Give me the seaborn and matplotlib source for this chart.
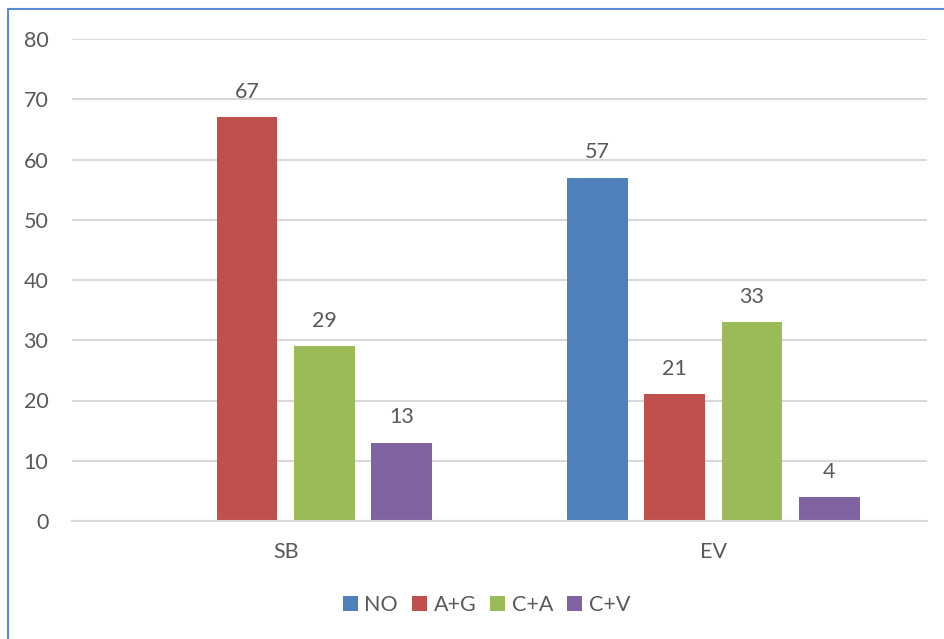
import matplotlib
matplotlib.use("Agg")
import matplotlib.pyplot as plt
from matplotlib.lines import Line2D
import numpy as np
import pandas as pd
import seaborn as sns

groups = ["SB", "EV"]
series = ["NO", "A+G", "C+A", "C+V"]
values_sb = [np.nan, 67, 29, 13]
values_ev = [57, 21, 33, 4]
colors = ["#4F81BD", "#C0504D", "#9BBB59", "#8064A2"]
y_ticks = [0, 10, 20, 30, 40, 50, 60, 70, 80]

rows = []
for g, vals in zip(groups, [values_sb, values_ev]):
    for s, v in zip(series, vals):
        rows.append({"group": g, "series": s, "value": v})
df = pd.DataFrame(rows)

sns.set_theme(style="white")
plt.rcParams["font.family"] = ["Lato", "DejaVu Sans"]
text_color = "#595959"
fs = 15.5

fig = plt.figure(figsize=(9.45, 6.39), dpi=100)
ax = fig.add_axes([72 / 945, 1 - 521 / 639, (927 - 72) / 945, (521 - 39) / 639])

sns.barplot(data=df, x="group", y="value", hue="series", order=groups,
            hue_order=series, palette=colors, width=0.725, gap=0.213,
            errorbar=None, saturation=1, linewidth=0, ax=ax, legend=True)

for c in ax.containers:
    ax.bar_label(c, fmt="%.0f", padding=11, fontsize=fs, color=text_color)

ax.set_ylim(0, 80)
ax.set_yticks(y_ticks)
ax.set_xlim(-0.5, 1.5)
ax.yaxis.grid(True, color="#D9D9D9", linewidth=1.5)
ax.set_axisbelow(True)
for side in ["left", "right", "top"]:
    ax.spines[side].set_visible(False)
ax.spines["bottom"].set_color("#D9D9D9")
ax.spines["bottom"].set_linewidth(1.5)
ax.tick_params(axis="y", length=0, pad=17, labelsize=fs, labelcolor=text_color)
ax.tick_params(axis="x", length=0, pad=15, labelsize=fs, labelcolor=text_color)
ax.set_xlabel("")
ax.set_ylabel("")

handles, labels = ax.get_legend_handles_labels()
ax.get_legend().remove()
fig.legend(handles, labels, loc="center", ncol=4,
           bbox_to_anchor=(486.5 / 945, 1 - 605 / 639), frameon=False,
           fontsize=fs, labelcolor=text_color, handlelength=0.7,
           handleheight=0.7, handletextpad=0.3, columnspacing=0.65)

# Chart frame
frame_color = "#5B8BD0"
fig.add_artist(Line2D([8 / 945, 8 / 945], [0, 1 - 9 / 639], color=frame_color,
                      linewidth=1.5, transform=fig.transFigure))
fig.add_artist(Line2D([8 / 945, 1], [1 - 9 / 639, 1 - 9 / 639], color=frame_color,
                      linewidth=1.5, transform=fig.transFigure))

fig.savefig("out.png", dpi=100)
